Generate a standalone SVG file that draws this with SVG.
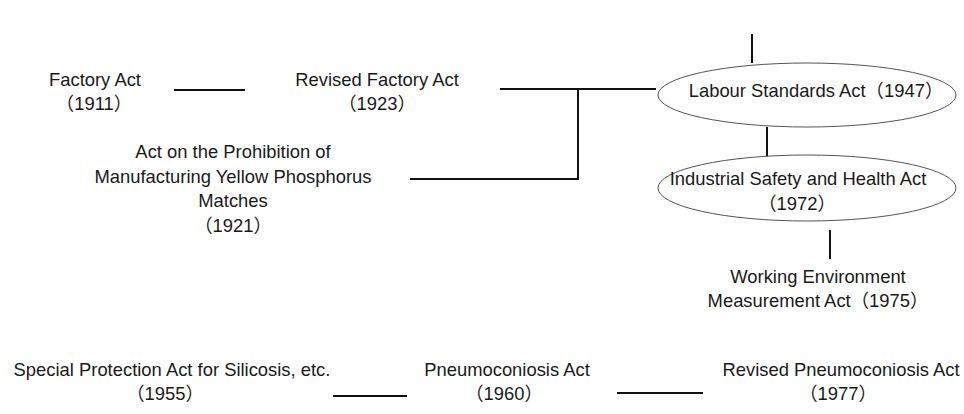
<svg xmlns="http://www.w3.org/2000/svg" width="964" height="414" viewBox="0 0 964 414">
  <style>
    .bg { fill: #ffffff; }
    .t { font-family: "Liberation Sans", "Noto Sans CJK JP", sans-serif; font-size: 18.4px; fill: #1a1a1a; text-anchor: middle; }
    .link { stroke: #111111; stroke-width: 2; fill: none; }
    .oval { fill: #ffffff; stroke: #555555; stroke-width: 1; }
  </style>
  <rect class="bg" x="0" y="0" width="964" height="414"/>

  <!-- connectors -->
  <g id="connectors">
    <line class="link" x1="174" y1="90" x2="245" y2="90"/>
    <line class="link" x1="500" y1="89" x2="656" y2="89"/>
    <polyline class="link" points="410,179 578,179 578,89"/>
    <line class="link" x1="752" y1="34" x2="752" y2="63"/>
    <line class="link" x1="767" y1="127" x2="767" y2="157"/>
    <line class="link" x1="830" y1="230" x2="830" y2="259"/>
    <line class="link" x1="333" y1="396" x2="407" y2="396"/>
    <line class="link" x1="617" y1="393" x2="703" y2="393"/>
  </g>

  <g id="factory-act">
    <text class="t" x="95" y="86">Factory Act</text>
    <text class="t" x="94" y="110">（1911）</text>
  </g>

  <g id="revised-factory-act">
    <text class="t" x="377" y="86">Revised Factory Act</text>
    <text class="t" x="377" y="110">（1923）</text>
  </g>

  <g id="yellow-phosphorus-act">
    <text class="t" x="233" y="158">Act on the Prohibition of</text>
    <text class="t" x="233" y="183">Manufacturing Yellow Phosphorus</text>
    <text class="t" x="233" y="207">Matches</text>
    <text class="t" x="233" y="232">（1921）</text>
  </g>

  <g id="labour-standards-act">
    <ellipse class="oval" cx="807" cy="95" rx="149" ry="32"/>
    <text class="t" x="816" y="97">Labour Standards Act（1947）</text>
  </g>

  <g id="industrial-safety-act">
    <ellipse class="oval" cx="807" cy="188" rx="149" ry="33"/>
    <text class="t" x="798" y="185">Industrial Safety and Health Act</text>
    <text class="t" x="797" y="210">（1972）</text>
  </g>

  <g id="working-environment-act">
    <text class="t" x="818" y="283">Working Environment</text>
    <text class="t" x="818" y="307">Measurement Act（1975）</text>
  </g>

  <g id="silicosis-act">
    <text class="t" x="172" y="376">Special Protection Act for Silicosis, etc.</text>
    <text class="t" x="165" y="400">（1955）</text>
  </g>

  <g id="pneumoconiosis-act">
    <text class="t" x="507" y="376">Pneumoconiosis Act</text>
    <text class="t" x="504" y="400">（1960）</text>
  </g>

  <g id="revised-pneumoconiosis-act">
    <text class="t" x="841" y="376">Revised Pneumoconiosis Act</text>
    <text class="t" x="838" y="400">（1977）</text>
  </g>
</svg>
